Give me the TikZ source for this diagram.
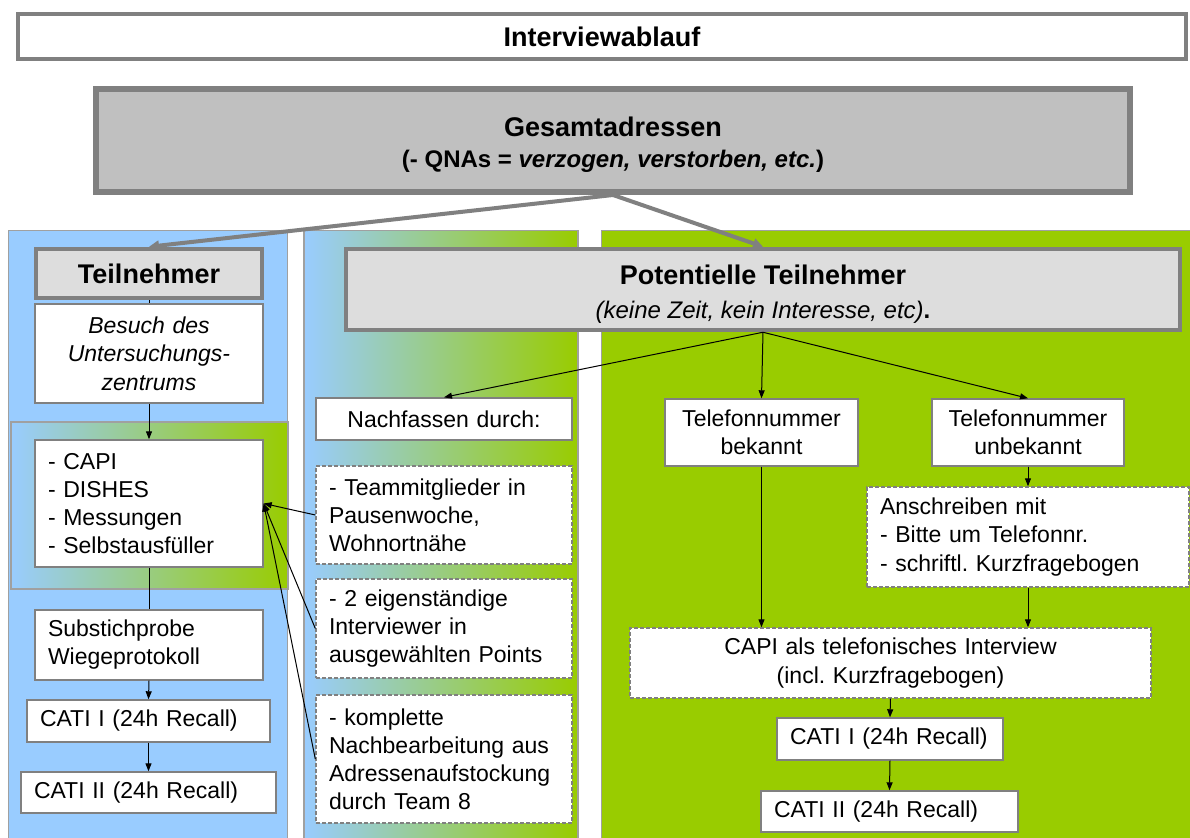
\documentclass[tikz,border=0pt]{standalone}
\usepackage{fontspec}
\setmainfont{Liberation Sans}
\usetikzlibrary{arrows.meta,calc}
\definecolor{lblue}{HTML}{99CCFF}
\definecolor{lgreen}{HTML}{99CC00}
\definecolor{lteal}{HTML}{99CCBB}
\definecolor{bgray}{HTML}{808080}
\definecolor{cgray}{HTML}{A0A0A0}
\definecolor{hgray}{HTML}{DDDDDD}
\definecolor{ggray}{HTML}{C0C0C0}
\newcommand\bodyf{\fontsize{11.5}{14}\selectfont}
\newcommand\headf{\fontsize{13.5}{16}\selectfont\bfseries}
\frenchspacing
\begin{document}
\begin{tikzpicture}[x=0.5pt,y=-0.5pt,
  box/.style={draw=bgray, line width=0.7pt, fill=white, inner ysep=0pt, font=\bodyf},
  dbox/.style={box, dash pattern=on 2pt off 1pt},
  cbox/.style={align=center, text width=#1, inner xsep=0pt},
  lbox/.style={align=left, text width=#1, inner xsep=6.5pt},
  head/.style={draw=bgray, line width=2.25pt, fill=hgray, inner sep=0pt},
  conn/.style={-{Triangle[length=4pt,width=3pt]}, line width=0.5pt},
  plainline/.style={line width=0.5pt},
  bigconn/.style={draw=bgray, line width=2pt, -{Triangle[length=5pt,width=5pt]}},
  col/.style={draw=cgray, line width=0.75pt},
  grad/.style={left color=lblue, middle color=lteal, right color=lgreen}
]
\useasboundingbox (0,0) rectangle (1190,838);
\fill[white] (0,0) rectangle (1190,838);

% columns
\path[col, fill=lblue] (8.5,230.5) rectangle (287.5,850);
\shade[grad] (11,422) rectangle (288,589);
\draw[col] (11,422) rectangle (288,589);
\shade[grad] (304,230.5) rectangle (578,850);
\draw[col] (304,230.5) rectangle (578,850);
\path[col, fill=lgreen] (601.5,230.5) rectangle (1200,850);

% title
\node[draw=bgray, line width=2pt, fill=white, minimum width=584pt, minimum height=22.5pt,
      inner sep=0pt, font=\headf] (title) at (602,36.5) {Interviewablauf};

% Gesamtadressen
\node[draw=bgray, line width=3pt, fill=ggray, minimum width=517pt, minimum height=51.5pt,
      inner sep=0pt, align=center, font=\fontsize{12}{15.5}\selectfont\bfseries] (gesamt) at (613,140.5)
  {\rule{0pt}{14pt}{\headf Gesamtadressen}\\(- QNAs = \textit{verzogen, verstorben, etc.})};

% left column
\node[head, minimum width=113pt, minimum height=24.5pt, font=\headf] (teil) at (149,273.5) {Teilnehmer};
\node[box, cbox=114pt, minimum height=49.5pt, font=\fontsize{11.5}{14.25}\selectfont\itshape] (besuch) at (149,353.5)
  {Besuch des\\Untersuchungs-\\zentrums};
\node[box, lbox=101pt, minimum height=63.5pt] (capi) at (149,503.5)
  {- CAPI\\- DISHES\\- Messungen\\- Selbstausfüller};
\node[box, lbox=101pt, minimum height=35pt] (subst) at (149,645)
  {Substichprobe\\Wiegeprotokoll};
\node[box, lbox=108.5pt, minimum height=21pt] (catiLa) at (148.5,721) {CATI I (24h Recall)};
\node[box, lbox=114.5pt, minimum height=20.5pt] (catiLb) at (148.5,792.5) {CATI II (24h Recall)};

% middle column
\node[box, cbox=128pt, minimum height=21pt] (nach) at (444,419) {Nachfassen durch:};
\node[dbox, lbox=115pt, minimum height=49pt] (team) at (444,515)
  {- Teammitglieder in\\Pausenwoche,\\Wohnortnähe};
\node[dbox, lbox=115pt, minimum height=49.5pt] (zwei) at (444,628.5)
  {- 2 eigenständige\\Interviewer in\\ausgewählten Points};
\node[dbox, lbox=115pt, minimum height=64pt] (kompl) at (444,759)
  {- komplette\\Nachbearbeitung aus\\Adressenaufstockung\\durch Team 8};

% Potentielle Teilnehmer
\node[head, minimum width=417pt, minimum height=40.5pt, align=center,
      font=\fontsize{12}{17}\selectfont] (pot) at (763,289.5)
  {\rule{0pt}{14.5pt}{\headf Potentielle Teilnehmer}\\\textit{(keine Zeit, kein Interesse, etc)}\textbf{.}};

% right column
\node[box, cbox=96.5pt, minimum height=33.5pt] (telbek) at (761.5,432.5) {Telefonnummer\\bekannt};
\node[box, cbox=96pt, minimum height=33.5pt] (telunb) at (1028,432.5) {Telefonnummer\\unbekannt};
\node[dbox, lbox=148pt, minimum height=50pt, font=\fontsize{11.5}{14.25}\selectfont] (anschr) at (1028,537)
  {Anschreiben mit\\- Bitte um Telefonnr.\\- schriftl. Kurzfragebogen};
\node[dbox, cbox=260.5pt, minimum height=35pt, font=\fontsize{11.5}{14.5}\selectfont] (capitel) at (890.5,663)
  {CAPI als telefonisches Interview\\(incl. Kurzfragebogen)};
\node[box, lbox=100pt, minimum height=21pt] (catiRa) at (890,739) {CATI I (24h Recall)};
\node[box, lbox=115.5pt, minimum height=20.5pt] (catiRb) at (889.5,811.5) {CATI II (24h Recall)};

% connectors
\draw[bigconn] (gesamt.south) -- (teil.north);
\draw[bigconn] (gesamt.south) -- (pot.north);

\draw[plainline] (teil.south) -- (besuch.north);
\draw[conn] (besuch.south) -- (capi.north);
\draw[plainline] (capi.south) -- (subst.north);
\draw[conn] (subst.south) -- (catiLa.north);
\draw[conn] (catiLa.south) -- (catiLb.north);

\draw[conn] (pot.south) -- (nach.north);
\draw[conn] (pot.south) -- (telbek.north);
\draw[conn] (pot.south) -- (telunb.north);

\draw[conn] (team.west) -- (capi.east);
\draw[conn] (zwei.west) -- (capi.east);
\draw[conn] (kompl.west) -- (capi.east);

\draw[conn] (telbek.south) -- (telbek.south |- capitel.north);
\draw[conn] (telunb.south) -- (anschr.north);
\draw[conn] (anschr.south) -- (anschr.south |- capitel.north);
\draw[conn] (capitel.south) -- (catiRa.north);
\draw[conn] (catiRa.south) -- (catiRb.north);
\end{tikzpicture}
\end{document}
